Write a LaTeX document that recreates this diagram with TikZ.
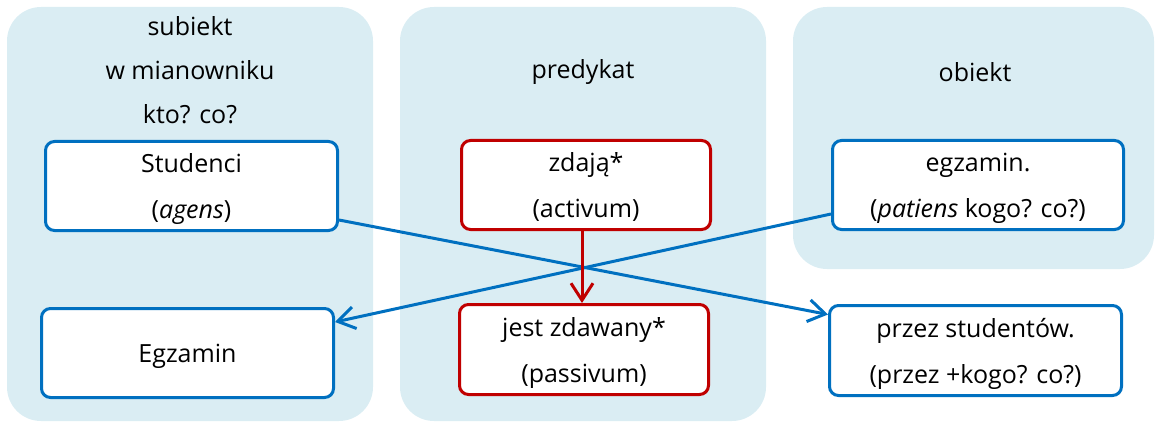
\documentclass[tikz,border=0pt]{standalone}
\usepackage{fontspec}
\setmainfont{Open Sans}
\usetikzlibrary{arrows.meta}
\definecolor{panelfill}{HTML}{DAEDF3}
\definecolor{bblue}{HTML}{0070C0}
\definecolor{rred}{HTML}{C00000}
\tikzset{
  panel/.style={fill=panelfill, draw=none, rounded corners=34pt},
  box/.style={draw=#1, line width=3pt, fill=white, rounded corners=9pt, inner sep=0pt, align=center, text depth=0pt, font=\fontsize{25}{46}\selectfont},
  title/.style={align=center, font=\fontsize{25}{44}\selectfont, inner sep=0pt},
  barrow/.style={draw=bblue, line width=3pt, -{Straight Barb[length=17pt,width=22pt,line width=3pt]}},
  rarrow/.style={draw=rred, line width=3pt, -{Straight Barb[length=17pt,width=22pt,line width=3pt]}},
}
\begin{document}
\begin{tikzpicture}[x=1pt,y=-1pt]
\useasboundingbox (0,0) rectangle (1155,422);
% panels
\path[panel] (7,7) rectangle (373,421);
\path[panel] (400,7) rectangle (766,421);
\path[panel] (793,7) rectangle (1154,269);
% titles
\node[title] (t1) at (190,70) {subiekt\\w mianowniku\\kto? co?};
\node[title] (t2) at (583,72) {predykat};
\node[title] (t3) at (975,72) {obiekt};
% boxes
\node[box=bblue, minimum width=292pt, minimum height=89pt] (stud) at (191.5,186) {Studenci\\(\textit{agens})};
\node[box=bblue, minimum width=292pt, minimum height=89pt] (egzL) at (187.5,353) {Egzamin};
\node[box=rred, minimum width=249pt, minimum height=89pt] (zdaja) at (586,185) {zdają*\\(activum)};
\node[box=rred, minimum width=249pt, minimum height=90pt] (jest) at (584,349.5) {jest zdawany*\\(passivum)};
\node[box=bblue, minimum width=291pt, minimum height=89pt] (egzR) at (978,185) {egzamin.\\(\textit{patiens} kogo? co?)};
\node[box=bblue, minimum width=292pt, minimum height=90pt] (przez) at (975.5,350.5) {przez studentów.\\(przez +kogo? co?)};
% arrows
\draw[barrow] ([yshift=-34pt]stud.east) -- ([yshift=36pt]przez.west);
\draw[barrow] ([yshift=-29pt]egzR.west) -- ([yshift=31pt]egzL.east);
\draw[rarrow] ([xshift=-4pt]zdaja.south) -- ([xshift=-2pt]jest.north);
\end{tikzpicture}
\end{document}
